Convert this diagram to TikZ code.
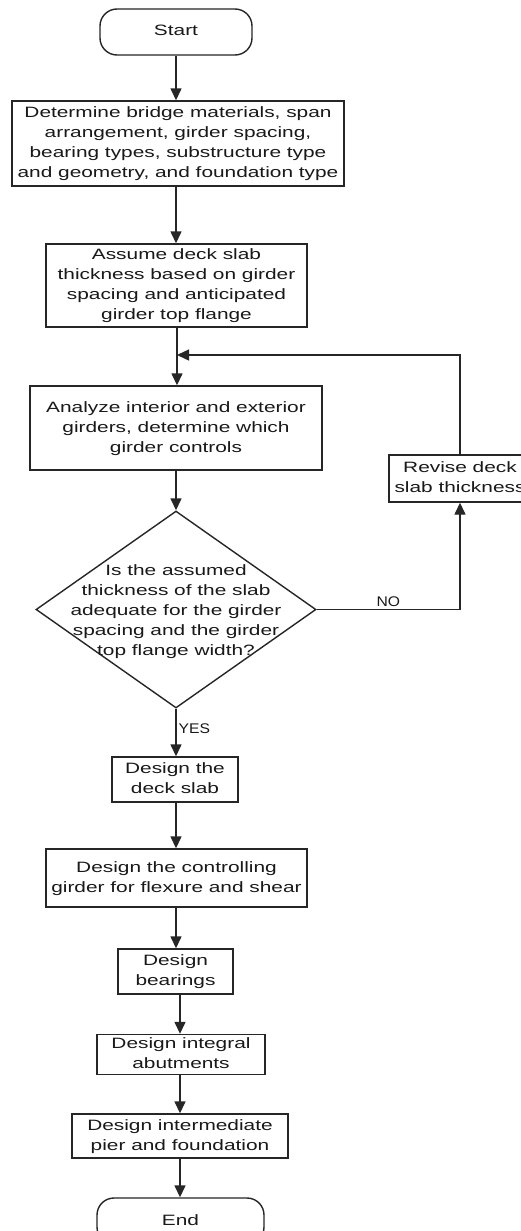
\documentclass[tikz,border=0pt]{standalone}
\usepackage{fontspec}
\setmainfont{Liberation Sans}
\usepackage{graphicx}
\usetikzlibrary{shapes.geometric,arrows.meta}

% Wide, multi-line text used inside the flowchart shapes
\newcommand{\flowtext}[1]{\scalebox{1.39}[1]{\begin{tabular}{@{}c@{}}#1\end{tabular}}}
\newcommand{\tagtext}[1]{\scalebox{1.12}[1]{#1}}

\tikzset{
  base/.style={draw=black!85, line width=1.4pt, fill=white, inner sep=0pt,
               text=black!90, font=\fontsize{15}{20}\selectfont},
  procbox/.style={base, rectangle},
  term/.style={base, rectangle, rounded corners=17pt},
  decision/.style={base, diamond},
  link/.style={draw=black!85, line width=1.4pt, -{Triangle[length=12pt,width=11pt]}},
  tag/.style={font=\fontsize{14}{16}\selectfont, text=black!90, inner sep=2pt},
}

\begin{document}
\begin{tikzpicture}[x=1pt, y=-1pt]
  \useasboundingbox (0,0) rectangle (521,1231);
  \fill[white] (0,0) rectangle (521,1231);
  \clip (0,0) rectangle (521,1231);

  % main column
  \node[term, minimum width=152pt, minimum height=46pt] (start) at (176,32) {\flowtext{Start}};
  \node[procbox, minimum width=332pt, minimum height=85pt] (b1) at (178,143.5)
    {\flowtext{Determine bridge materials, span\\arrangement, girder spacing,\\bearing types, substructure type\\and geometry, and foundation type}};
  \node[procbox, minimum width=261pt, minimum height=83pt] (b2) at (176.5,285.5)
    {\flowtext{Assume deck slab\\thickness based on girder\\spacing and anticipated\\girder top flange}};
  \node[procbox, minimum width=292pt, minimum height=84pt] (b3) at (176,428)
    {\flowtext{Analyze interior and exterior\\girders, determine which\\girder controls}};
  \node[decision, minimum width=280pt, minimum height=197pt] (dia) at (176,609.5) {};
  \node[inner sep=0pt, text=black!90, font=\fontsize{15}{20}\selectfont] (diatext) at (176,611)
    {\flowtext{Is the assumed\\thickness of the slab\\adequate for the girder\\spacing and the girder\\top flange width?}};
  \node[procbox, minimum width=142pt, minimum height=47pt] (revise) at (460,478.5)
    {\flowtext{Revise deck\\slab thickness}};
  \node[procbox, minimum width=126pt, minimum height=45pt] (deck) at (175,779.5)
    {\flowtext{Design the\\deck slab}};
  \node[procbox, minimum width=261pt, minimum height=58pt] (girder) at (176.5,878)
    {\flowtext{Design the controlling\\girder for flexure and shear}};
  \node[procbox, minimum width=115pt, minimum height=45pt] (bear) at (175.5,971.5)
    {\flowtext{Design\\bearings}};
  \node[procbox, minimum width=168pt, minimum height=37pt] (abut) at (181,1054.5)
    {\flowtext{Design integral\\abutments}};
  \node[procbox, minimum width=216pt, minimum height=44pt] (pier) at (180,1136)
    {\flowtext{Design intermediate\\pier and foundation}};
  \node[term, minimum width=167pt, minimum height=46pt] (end) at (180.5,1221) {\flowtext{End}};

  % junction where the revision loop rejoins
  \coordinate (join) at (177,355);

  % connectors
  \draw[link] (start.south) -- (start.south |- b1.north);
  \draw[link] (b1.south -| start.south) -- (start.south |- b2.north);
  \draw[link] (b2.south -| join) -- (join |- b3.north);
  \draw[link] (b3.south -| dia.north) -- (dia.north);
  \draw[link] (dia.east) -| (revise.south)
    node[tag, pos=0.25, above] {\tagtext{NO}};
  \draw[link] (revise.north) |- (join);
  \draw[link] (dia.south) -- (dia.south |- deck.north)
    node[tag, pos=0.43, anchor=west] {\tagtext{YES}};
  \draw[link] (deck.south -| dia.south) -- (dia.south |- girder.north);
  \draw[link] (girder.south -| dia.south) -- (dia.south |- bear.north);
  \draw[link] (bear.south -| pier.north) -- (pier.north |- abut.north);
  \draw[link] (abut.south -| pier.north) -- (pier.north);
  \draw[link] (pier.south) -- (pier.south |- end.north);
\end{tikzpicture}
\end{document}
